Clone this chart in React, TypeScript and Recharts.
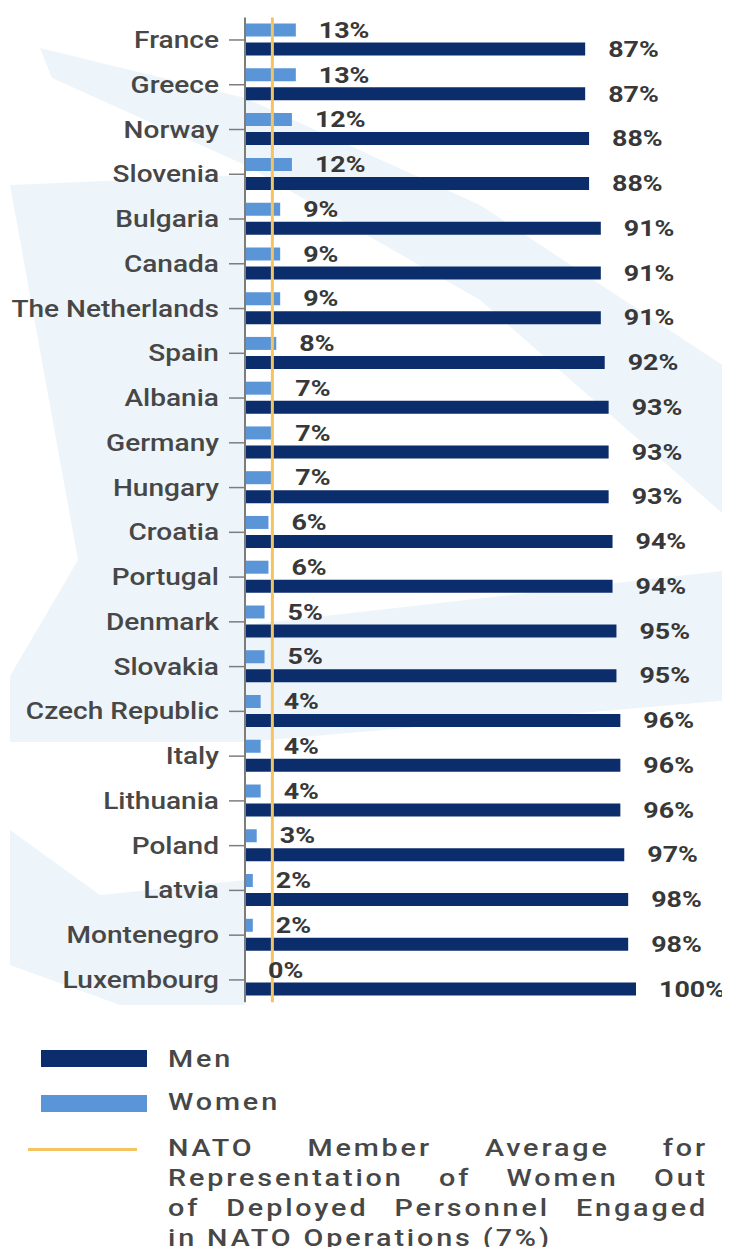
import React from "react";
import { BarChart, Bar, XAxis, YAxis, ReferenceLine, LabelList } from "recharts";

const countries = [
  "France",
  "Greece",
  "Norway",
  "Slovenia",
  "Bulgaria",
  "Canada",
  "The Netherlands",
  "Spain",
  "Albania",
  "Germany",
  "Hungary",
  "Croatia",
  "Portugal",
  "Denmark",
  "Slovakia",
  "Czech Republic",
  "Italy",
  "Lithuania",
  "Poland",
  "Latvia",
  "Montenegro",
  "Luxembourg",
];
const womenShare = [13, 13, 12, 12, 9, 9, 9, 8, 7, 7, 7, 6, 6, 5, 5, 4, 4, 4, 3, 2, 2, 0];
const menShare = [87, 87, 88, 88, 91, 91, 91, 92, 93, 93, 93, 94, 94, 95, 95, 96, 96, 96, 97, 98, 98, 100];
const natoAverage = 7;

const legendItems = [
  { label: "Men", color: "#0b2d6b" },
  { label: "Women", color: "#5a95d8" },
];
const averageNote = [
  "NATO Member Average for",
  "Representation of Women Out",
  "of Deployed Personnel Engaged",
  "in NATO Operations (7%)",
];

const chartData = countries.map((country, i) => ({
  country,
  women: womenShare[i],
  men: menShare[i],
}));

// the source picture is stretched sideways, so text is widened to match
const STRETCH = 1.22;
const LEGEND_STRETCH = 1.25;
const FONT = "Roboto, 'Noto Sans', sans-serif";
const TEXT = "#474747";

const CountryTick = (props: any) => {
  const { x, y, payload } = props;
  return (
    <g transform={`translate(${x},${y}) scale(${STRETCH},1)`}>
      <text x={0} y={0} dy="0.35em" textAnchor="end" fontSize={23} fontWeight={500} fontFamily={FONT} fill={TEXT}>
        {payload.value}
      </text>
    </g>
  );
};

const renderPercent = (props: any) => {
  const { x, y, width, height, value } = props;
  const tx = Number(x) + (Number(width) || 0) + 23;
  const ty = Number(y) + Number(height) / 2;
  return (
    <g transform={`translate(${tx},${ty}) scale(${STRETCH},1)`}>
      <text x={0} y={0} dy="0.35em" fontSize={22} fontWeight={700} fontFamily={FONT} fill="#383838">
        {value}%
      </text>
    </g>
  );
};

const Backdrop = () => (
  <svg width={730} height={1255} style={{ position: "absolute", left: 0, top: 0 }}>
    <g fill="#edf5fb">
      <polygon points="40,48 245,98 480,205 730,370 730,520 480,300 245,165 52,78" />
      <polygon points="10,185 245,175 245,742 10,742 10,676 78,560" />
      <polygon points="245,625 730,570 730,700 245,742" />
      <polygon points="10,830 100,895 245,880 245,1005 120,1005 10,965" />
    </g>
  </svg>
);

const legendText: React.CSSProperties = {
  position: "absolute",
  left: 168,
  fontFamily: FONT,
  fontSize: 23,
  fontWeight: 500,
  color: TEXT,
  lineHeight: "30px",
  letterSpacing: 2.3,
  transform: `scaleX(${LEGEND_STRETCH})`,
  transformOrigin: "left top",
};

export default function App() {
  return (
    <div style={{ position: "relative", width: 730, height: 1255, margin: -8, background: "#ffffff", overflow: "hidden" }}>
      <Backdrop />
      <div style={{ position: "absolute", left: 0, top: 0 }}>
        <BarChart
          width={730}
          height={1010}
          data={chartData}
          layout="vertical"
          barGap={6}
          margin={{ top: 17.6, right: 94, bottom: 7.7, left: 0 }}
        >
          <XAxis type="number" domain={[0, 100]} hide />
          <YAxis
            type="category"
            dataKey="country"
            width={245}
            interval={0}
            tick={<CountryTick />}
            tickSize={16}
            tickMargin={10}
            axisLine={{ stroke: "#7d7d7d", strokeWidth: 2 }}
            tickLine={{ stroke: "#7d7d7d", strokeWidth: 1.5 }}
          />
          <Bar dataKey="women" fill="#5a95d8" barSize={13} minPointSize={0.01} isAnimationActive={false}>
            <LabelList dataKey="women" content={renderPercent} />
          </Bar>
          <Bar dataKey="men" fill="#0b2d6b" barSize={13} isAnimationActive={false}>
            <LabelList dataKey="men" content={renderPercent} />
          </Bar>
          <ReferenceLine x={natoAverage} stroke="#f5c462" strokeWidth={3} />
        </BarChart>
      </div>

      {legendItems.map((item, i) => (
        <React.Fragment key={item.label}>
          <div
            style={{
              position: "absolute",
              left: 41,
              top: 1050 + i * 45,
              width: 106,
              height: 17,
              background: item.color,
            }}
          />
          <div style={{ ...legendText, top: 1045 + i * 43 }}>{item.label}</div>
        </React.Fragment>
      ))}
      <div style={{ position: "absolute", left: 28, top: 1148, width: 109, height: 3, background: "#f5c462" }} />
      <div style={{ ...legendText, top: 1134, width: 540 / LEGEND_STRETCH }}>
        {averageNote.map((line, i) => (
          <div
            key={line}
            style={{ textAlign: "justify", textAlignLast: i < averageNote.length - 1 ? "justify" : "left" }}
          >
            {line}
          </div>
        ))}
      </div>
    </div>
  );
}
